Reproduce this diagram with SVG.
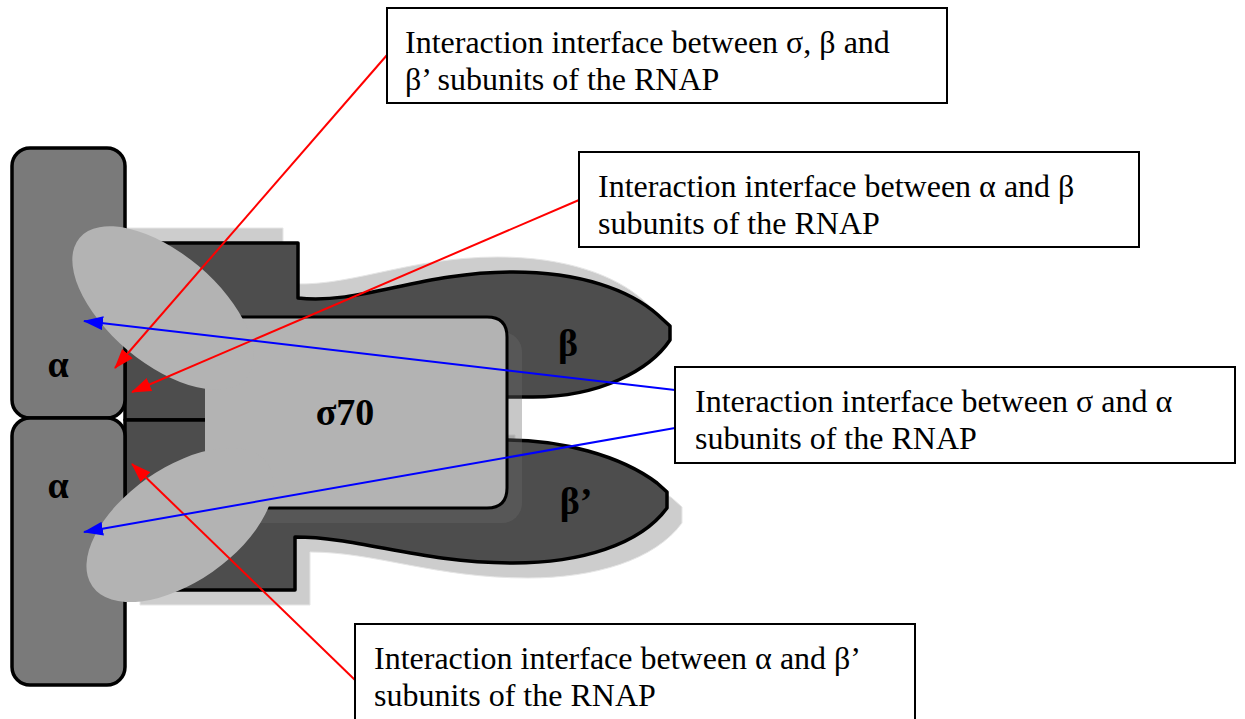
<svg xmlns="http://www.w3.org/2000/svg" width="1245" height="719" viewBox="0 0 1245 719">
<defs>
<style>
.alpha{fill:#7a7a7a;stroke:#000;stroke-width:3.5}
.dark{fill:#4d4d4d;stroke:#000;stroke-width:3.5;stroke-linejoin:round}
.shadow{fill:#cdcdcd;stroke:#e6e6e6;stroke-width:1}
.light{fill:#b3b3b3}
.edge{fill:none;stroke:#000;stroke-width:3}
.lbl{font-family:"Liberation Serif",serif;font-weight:bold;font-size:38px;fill:#000}
.box{fill:#fff;stroke:#000;stroke-width:2}
.txt{font-family:"Liberation Serif",serif;font-size:32px;fill:#000}
.red{stroke:#ff0000;stroke-width:2;fill:none}
.blue{stroke:#0000ff;stroke-width:2;fill:none}
</style>
<marker id="ar" viewBox="0 0 20 14" refX="19" refY="7" markerWidth="20" markerHeight="14" markerUnits="userSpaceOnUse" orient="auto">
<path d="M0,0 L20,7 L0,14 Z" fill="#ff0000"/>
</marker>
<marker id="ab" viewBox="0 0 20 14" refX="19" refY="7" markerWidth="20" markerHeight="14" markerUnits="userSpaceOnUse" orient="auto">
<path d="M0,0 L20,7 L0,14 Z" fill="#0000ff"/>
</marker>
<path id="upperBody" d="M125,243 H298 V298 C360,305 420,272 513,272 C580,272 630,290 658,315 L670,326 V340 C650,370 600,397 533,397 H500 V420 H125 Z"/>
<path id="lowerBody" d="M125,420 H500 V440 H507 C560,440 620,455 657,483 L667,492 V508 C640,545 580,563 513,563 C420,563 360,537 295,537 V590 H125 Z"/>
</defs>

<g id="shadows">
<use href="#upperBody" class="shadow" transform="translate(-15,-15)"/>
<use href="#lowerBody" class="shadow" transform="translate(15,15)"/>
</g>

<g id="beta">
<use href="#upperBody" class="dark"/>
<text class="lbl" x="568" y="356" text-anchor="middle">β</text>
</g>
<g id="beta-prime">
<use href="#lowerBody" class="dark"/>
<text class="lbl" x="576" y="514" text-anchor="middle">β’</text>
</g>

<g id="sigma70">
<rect x="220" y="332" width="302" height="191" rx="20" fill="#6a6a6a" opacity="0.37"/>
<path class="light" d="M205,317 H487 Q507,317 507,337 V488 Q507,508 487,508 H205 Z"/>
<path class="edge" d="M205,317 H487 Q507,317 507,337 V488 Q507,508 487,508 H205"/>
<text class="lbl" x="345" y="425" text-anchor="middle">σ70</text>
</g>

<g id="alpha-upper">
<rect class="alpha" x="12" y="148" width="113" height="270" rx="18"/>
</g>
<g id="alpha-lower">
<rect class="alpha" x="12" y="418" width="113" height="267" rx="18"/>
</g>

<g id="interfaces">
<ellipse class="light" cx="163" cy="308" rx="109" ry="55" transform="rotate(40 163 308)"/>
<ellipse class="light" cx="180" cy="525" rx="107" ry="57" transform="rotate(-35 180 525)"/>
</g>

<g id="alpha-labels">
<text class="lbl" x="58" y="377" text-anchor="middle">α</text>
<text class="lbl" x="58" y="498" text-anchor="middle">α</text>
</g>

<g id="connectors">
<line class="red" x1="387" y1="55" x2="115" y2="368" marker-end="url(#ar)"/>
<line class="red" x1="579" y1="200" x2="132" y2="392" marker-end="url(#ar)"/>
<line class="red" x1="355" y1="680" x2="132" y2="464" marker-end="url(#ar)"/>
<line class="blue" x1="675" y1="390" x2="84" y2="321" marker-end="url(#ab)"/>
<line class="blue" x1="675" y1="428" x2="84" y2="532" marker-end="url(#ab)"/>
</g>

<g id="box1">
<rect class="box" x="387" y="8" width="560" height="95"/>
<text class="txt" x="405" y="53">Interaction interface between σ, β and</text>
<text class="txt" x="405" y="90">β’ subunits of the RNAP</text>
</g>
<g id="box2">
<rect class="box" x="579" y="152" width="560" height="95"/>
<text class="txt" x="598" y="197">Interaction interface between α and β</text>
<text class="txt" x="598" y="234">subunits of the RNAP</text>
</g>
<g id="box3">
<rect class="box" x="675" y="367" width="560" height="96"/>
<text class="txt" x="695" y="412">Interaction interface between σ and α</text>
<text class="txt" x="695" y="449">subunits of the RNAP</text>
</g>
<g id="box4">
<rect class="box" x="355" y="624" width="560" height="100"/>
<text class="txt" x="374" y="669">Interaction interface between α and β’</text>
<text class="txt" x="374" y="706">subunits of the RNAP</text>
</g>
</svg>
